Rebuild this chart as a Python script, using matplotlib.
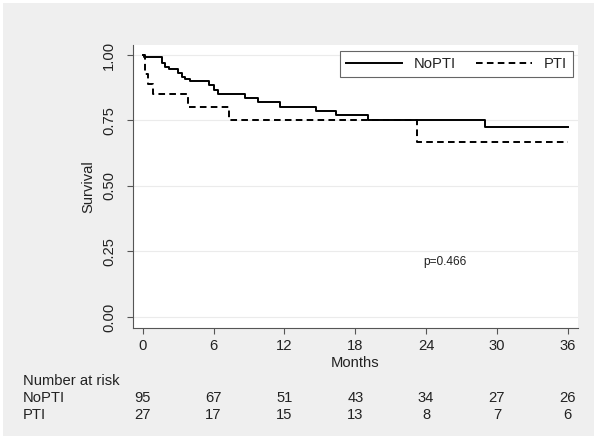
import matplotlib
matplotlib.use("Agg")
import matplotlib.pyplot as plt
from matplotlib.patches import Rectangle

plt.rcParams['font.family'] = ['Liberation Sans', 'DejaVu Sans']

# Kaplan-Meier steps (months, survival)
nopti_t = [0, 0.1, 1.6, 1.9, 2.2, 3.0, 3.3, 3.6, 4.0, 5.6, 6.0, 6.4, 8.66, 9.8, 11.6, 14.7, 16.4, 19.1, 29.0, 36]
nopti_s = [1.0, 0.992, 0.968, 0.955, 0.945, 0.932, 0.917, 0.908, 0.902, 0.885, 0.866, 0.850, 0.835, 0.822, 0.803, 0.787, 0.770, 0.752, 0.726, 0.726]
pti_t = [0, 0.2, 0.45, 0.9, 3.85, 7.3, 23.2, 36]
pti_s = [1.0, 0.926, 0.889, 0.852, 0.80, 0.75, 0.667, 0.667]

risk_times = [0, 6, 12, 18, 24, 30, 36]
risk_nopti = [95, 67, 51, 43, 34, 27, 26]
risk_pti = [27, 17, 15, 13, 8, 7, 6]

bg = '#efefef'
txt = '#222222'
fs = 10.6

fig = plt.figure(figsize=(6, 4.41), dpi=100, facecolor='white')
fig.patches.append(Rectangle((3 / 600, 5 / 441), 591 / 600, 433 / 441,
                             transform=fig.transFigure, facecolor=bg, edgecolor='none', zorder=-10))
ax = fig.add_axes([133 / 600, 1 - 328 / 441, 445 / 600, 283 / 441])
ax.set_facecolor('white')

ax.step(nopti_t, nopti_s, where='post', color='black', lw=1.4, label='NoPTI', zorder=3)
ax.step(pti_t, pti_s, where='post', color='black', lw=1.4, linestyle=(0, (3.4, 2.2)), label='PTI', zorder=2)

ax.set_xlim(-0.82, 36.86)
ax.set_ylim(-0.042, 1.038)
ax.set_xticks(risk_times)
ax.set_yticks([0, 0.25, 0.5, 0.75, 1.0])
ax.set_yticklabels(['0.00', '0.25', '0.50', '0.75', '1.00'], rotation=90, va='center')
ax.yaxis.grid(True, color='#ebebeb', lw=0.8)
ax.set_axisbelow(True)

for s in ['top', 'right']:
    ax.spines[s].set_visible(False)
for s in ['left', 'bottom']:
    ax.spines[s].set_color('#555555')
    ax.spines[s].set_linewidth(0.8)
ax.tick_params(axis='both', colors='#555555', labelcolor=txt, labelsize=fs, length=4, width=0.8)
ax.tick_params(axis='y', pad=8)
ax.tick_params(axis='x', pad=4)

ax.set_xlabel('Months', fontsize=fs, color=txt, labelpad=2)
ax.set_ylabel('Survival', fontsize=fs, color=txt, labelpad=5)

leg = ax.legend(loc='upper right', bbox_to_anchor=(0.989, 0.979), borderaxespad=0, ncol=2,
                fontsize=fs, handlelength=3.8, handletextpad=0.8, columnspacing=1.4,
                fancybox=False, framealpha=1, edgecolor='#666666', borderpad=0.4)
leg.get_frame().set_linewidth(0.8)
for t in leg.get_texts():
    t.set_color(txt)

ax.text(25.6, 0.208, 'p=0.466', fontsize=8.6, color=txt, ha='center', va='center')

# number at risk table
fig.text(23 / 600, 1 - 381 / 441, 'Number at risk', fontsize=fs, color=txt, va='center')
fig.text(23 / 600, 1 - 398 / 441, 'NoPTI', fontsize=fs, color=txt, va='center')
fig.text(23 / 600, 1 - 415 / 441, 'PTI', fontsize=fs, color=txt, va='center')
trans = ax.get_xaxis_transform()
for i in range(len(risk_times)):
    ax.text(risk_times[i], -(398 - 328) / 283, str(risk_nopti[i]), transform=trans, fontsize=fs,
            color=txt, ha='center', va='center', clip_on=False)
    ax.text(risk_times[i], -(415 - 328) / 283, str(risk_pti[i]), transform=trans, fontsize=fs,
            color=txt, ha='center', va='center', clip_on=False)

fig.savefig('out.png', dpi=100, facecolor=fig.get_facecolor())
